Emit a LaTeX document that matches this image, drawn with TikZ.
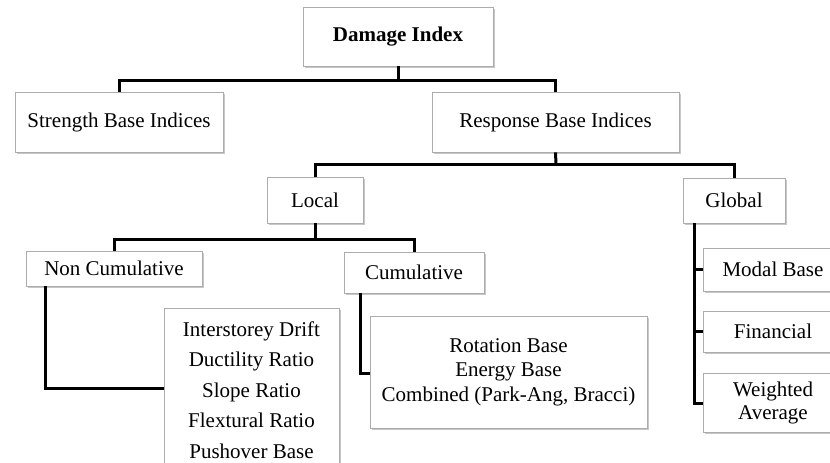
\documentclass[tikz,border=0pt]{standalone}
\usepackage{fontspec}
\setmainfont{Liberation Serif}
\usetikzlibrary{shadows}
\begin{document}
\begin{tikzpicture}[x=1pt,y=-1pt,
  box/.style={draw=gray!65, line width=0.8pt, fill=white, inner sep=0pt, align=center,
    font=\fontsize{21}{24}\selectfont,
    drop shadow={shadow xshift=1.6pt, shadow yshift=-1.6pt, fill=gray!55, opacity=0.8}},
  conn/.style={line width=3pt, line cap=butt, line join=miter}]
\useasboundingbox (0,0) rectangle (830,463);
\clip (0,0) rectangle (830,463);
% nodes
\node[box, minimum width=190pt, minimum height=59pt] (di) at (398,36.5) {\textbf{Damage Index}};
\node[box, minimum width=208pt, minimum height=60pt] (sb) at (119,122) {Strength Base Indices};
\node[box, minimum width=247pt, minimum height=60pt] (rb) at (555.5,122) {Response Base Indices};
\node[box, minimum width=96pt, minimum height=46pt] (lo) at (315,200) {Local};
\node[box, minimum width=102pt, minimum height=45pt] (gl) at (734,200.5) {Global};
\node[box, minimum width=176pt, minimum height=35pt] (nc) at (114,268.5) {Non Cumulative};
\node[box, minimum width=140pt, minimum height=41pt] (cu) at (414,272.5) {Cumulative};
\node[box, minimum width=175pt, minimum height=162pt, anchor=north,
  font=\fontsize{21}{30.5}\selectfont] (l1) at (251.5,308)
  {\rule{0pt}{28pt}Interstorey Drift\\Ductility Ratio\\Slope Ratio\\Flextural Ratio\\Pushover Base\\[18pt]};
\node[box, minimum width=277pt, minimum height=112pt, font=\fontsize{21}{24.5}\selectfont] (l2) at (508.5,372)
  {Rotation Base\\Energy Base\\Combined (Park-Ang, Bracci)};
\node[box, minimum width=140pt, minimum height=43pt] (mb) at (773,269.5) {Modal Base};
\node[box, minimum width=140pt, minimum height=41pt] (fi) at (773,331.5) {Financial};
\node[box, minimum width=140pt, minimum height=59pt, font=\fontsize{21}{23}\selectfont] (wa) at (773,402.5) {Weighted\\Average};
% junctions
\coordinate (j1) at (398,80);
\coordinate (j2) at (556,164);
\coordinate (j3) at (315,239);
\coordinate (c1) at (45,388);
\coordinate (c2) at (360,373);
\coordinate (g0) at (694,403);
% connectors
\draw[conn] (di.south) -- (j1);
\draw[conn] (sb.north) |- (j1) -| (rb.north);
\draw[conn] (rb.south) -- (j2);
\draw[conn] (lo.north) |- (j2) -| (gl.north);
\draw[conn] (lo.south) -- (j3);
\draw[conn] (nc.north) |- (j3) -| (cu.north);
\draw[conn] (c1 |- nc.south) -- (c1) -- (l1.west |- c1);
\draw[conn] (c2 |- cu.south) -- (c2) -- (l2.west |- c2);
\draw[conn] (g0 |- gl.south) -- (g0) -- (wa.west |- g0);
\draw[conn] (g0 |- mb.west) -- (mb.west);
\draw[conn] (g0 |- fi.west) -- (fi.west);
\end{tikzpicture}
\end{document}
